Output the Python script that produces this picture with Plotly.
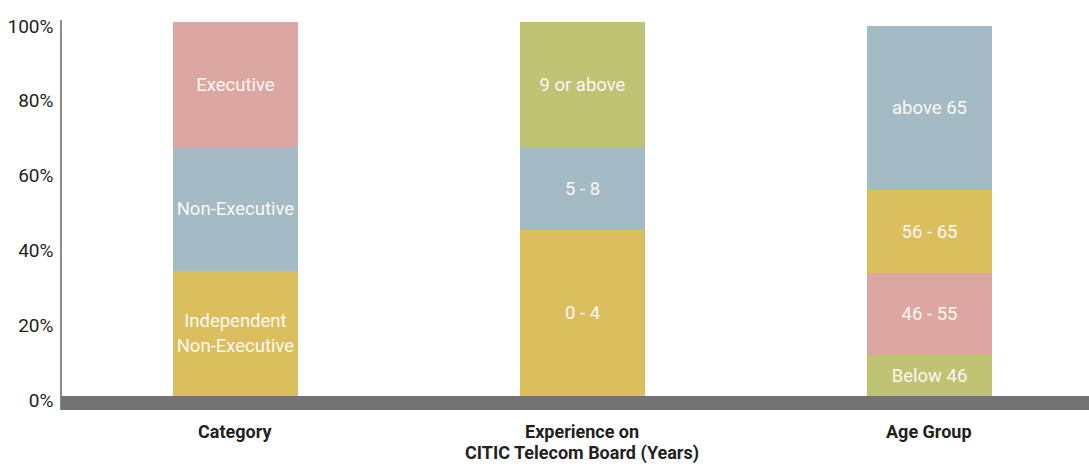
import plotly.graph_objects as go

# Group titles shown under each stacked bar
groups = ["Category", "Experience on<br>CITIC Telecom Board (Years)", "Age Group"]

# Segments of each bar, listed bottom to top (share of board, %)
category_labels = ["Independent<br>Non-Executive", "Non-Executive", "Executive"]
category_values = [33.3, 33.3, 33.4]

experience_labels = ["0 - 4", "5 - 8", "9 or above"]
experience_values = [44.4, 22.2, 33.4]

age_labels = ["Below 46", "46 - 55", "56 - 65", "above 65"]
age_values = [11, 22, 22, 44]

y_ticks = [0, 20, 40, 60, 80, 100]

GOLD = "#dbbf5f"
BLUE = "#a4bbc5"
PINK = "#dca7a3"
GREEN = "#bfc374"

category_colors = [GOLD, BLUE, PINK]
experience_colors = [GOLD, BLUE, GREEN]
age_colors = [GREEN, PINK, GOLD, BLUE]

FONT = "Roboto, sans-serif"
DARK = "#231f20"

fig = go.Figure()

stacks = [
    (category_labels, category_values, category_colors),
    (experience_labels, experience_values, experience_colors),
    (age_labels, age_values, age_colors),
]

for pos, (labels, values, colors) in enumerate(stacks):
    for label, value, color in zip(labels, values, colors):
        fig.add_trace(go.Bar(
            x=[pos],
            y=[value],
            width=0.36,
            marker=dict(color=color, line=dict(width=0)),
            text=[label],
            texttemplate="%{text}",
            textposition="inside",
            insidetextanchor="middle",
            textangle=0,
            constraintext="none",
            textfont=dict(family=FONT, size=18.5, color="#fbf7f2"),
            hoverinfo="skip",
            showlegend=False,
        ))

y_min = -3.74
y_max = 100.53

# Dark base band under the bars
fig.add_shape(
    type="rect", xref="paper", yref="y",
    x0=-0.001, x1=1, y0=y_min, y1=0,
    fillcolor="#737373", line=dict(width=0), layer="above",
)

# Group titles beneath the band, one annotation per line
for pos, title in enumerate(groups):
    for i, line in enumerate(title.split("<br>")):
        fig.add_annotation(
            x=pos, xref="x", y=0, yref="paper",
            text="<b>" + line + "</b>",
            showarrow=False, xanchor="center", yanchor="middle",
            yshift=-21 - 22 * i,
            font=dict(family=FONT, size=18, color=DARK),
        )

fig.update_layout(
    width=1089, height=464,
    barmode="stack",
    bargap=0,
    plot_bgcolor="white", paper_bgcolor="white",
    margin=dict(l=62, r=0, t=20, b=54),
    xaxis=dict(
        range=[-0.5, 2.46], showticklabels=False, showgrid=False,
        zeroline=False, showline=False, ticks="",
    ),
    yaxis=dict(
        range=[y_min, y_max], tickvals=y_ticks,
        ticktext=[f"{v}%" for v in y_ticks],
        showgrid=False, zeroline=False,
        showline=True, linecolor="#8a8a8a", linewidth=1.5,
        ticks="", ticklabelstandoff=3, ticklabelshift=4,
        tickfont=dict(family=FONT, size=19, color=DARK),
    ),
)

fig.write_html("out.html")
